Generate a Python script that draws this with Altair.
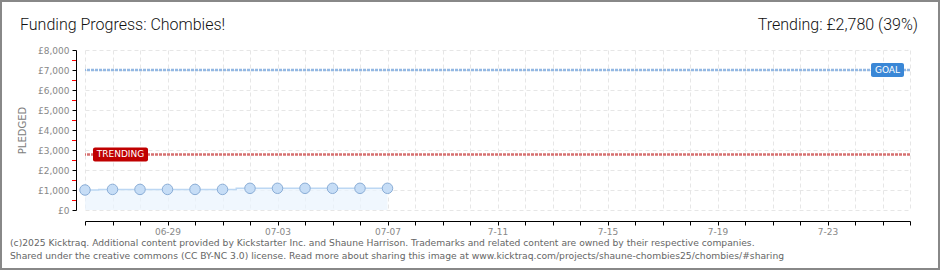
import altair as alt
import pandas as pd
from datetime import datetime, timezone

# ---- data ----
dates = ["2025-06-26", "2025-06-27", "2025-06-28", "2025-06-29", "2025-06-30", "2025-07-01",
         "2025-07-02", "2025-07-03", "2025-07-04", "2025-07-05", "2025-07-06", "2025-07-07"]
pledged = [1000, 1030, 1030, 1030, 1030, 1030, 1085, 1085, 1085, 1085, 1085, 1085]
goal = 7000
trending = 2780
x_start = "2025-06-26"
x_end = "2025-07-26"
label_dates = ["2025-06-29", "2025-07-03", "2025-07-07", "2025-07-11", "2025-07-15", "2025-07-19", "2025-07-23"]
label_texts = ["06-29", "07-03", "07-07", "7-11", "7-15", "7-19", "7-23"]
y_ticks = [0, 1000, 2000, 3000, 4000, 5000, 6000, 7000, 8000]
y_minor = [500, 1500, 2500, 3500, 4500, 5500, 6500, 7500]

title_text = "Funding Progress: Chombies!"
trend_text = "Trending:  £2,780 (39%)"
footer1 = ("(c)2025 Kicktraq. Additional content provided by Kickstarter Inc. and Shaune Harrison. "
           "Trademarks and related content are owned by their respective companies.")
footer2 = ("Shared under the creative commons (CC BY-NC 3.0) license. Read more about sharing this image at "
           "www.kicktraq.com/projects/shaune-chombies25/chombies/#sharing")

DAY = 86400000


def ms(s):
    return int(datetime.strptime(s, "%Y-%m-%d").replace(tzinfo=timezone.utc).timestamp() * 1000)


t0, t1 = ms(x_start), ms(x_end)
n_days = (t1 - t0) // DAY
tick_vals = [t0 + i * DAY for i in range(n_days + 1)]
label_expr = "''"
for d, t in reversed(list(zip(label_dates, label_texts))):
    label_expr = "(abs(datum.value - %d) < %d ? '%s' : %s)" % (ms(d), DAY // 2, t, label_expr)

W, H = 825, 160
PL, PT = 85, 50

df = pd.DataFrame({"date": dates, "pledged": pledged})

FONT = "DejaVu Sans"

xenc = alt.X("date:T",
             scale=alt.Scale(type="utc", domain=[t0, t1]),
             axis=alt.Axis(values=tick_vals, labelExpr=label_expr, title=None,
                           grid=True, gridDash=[4, 3], gridColor="#e6e6e6",
                           domainColor="black", tickColor="black", tickSize=4,
                           offset=11, labelFont=FONT, labelFontSize=9, labelColor="#888",
                           labelPadding=2, labelAngle=0, labelOverlap=False, labelFlush=False))
yaxis = alt.Axis(values=y_ticks, labelExpr="'£' + format(datum.value, ',')",
                 title="PLEDGED", titleFont=FONT, titleFontSize=10, titleFontWeight="normal",
                 titleColor="#808080", titlePadding=10,
                 grid=True, gridDash=[4, 3], gridColor="#e6e6e6",
                 domainColor="black", tickColor="black", tickSize=4,
                 offset=9, labelFont=FONT, labelFontSize=9, labelColor="#888",
                 labelPadding=3, labelOverlap=False, labelFlush=False)
yscale = alt.Scale(domain=[0, 8000], nice=False)


def Y(field):
    return alt.Y(field, scale=yscale, axis=yaxis)


base = alt.Chart(df)

area = base.mark_area(interpolate="step", color="#eaf3fd", line={"color": "#bcd7f3", "strokeWidth": 1.5}).encode(
    x=xenc, y=Y("pledged:Q"))
points = base.mark_point(filled=True, size=110, fill="#c6ddf6", stroke="#8aadd6", strokeWidth=1, opacity=1).encode(
    x=xenc, y=Y("pledged:Q"))

one = pd.DataFrame({"v": [0]})

goal_rule = alt.Chart(pd.DataFrame({"pledged": [goal]})).mark_rule(
    color="#93b8e3", strokeWidth=2.5, strokeDash=[3, 1]).encode(y=Y("pledged:Q"))
trend_rule = alt.Chart(pd.DataFrame({"pledged": [trending]})).mark_rule(
    color="#d67070", strokeWidth=2.5, strokeDash=[3, 1]).encode(y=Y("pledged:Q"))

trend_box = alt.Chart(pd.DataFrame({"pledged": [trending + 350], "b": [trending - 350]})).mark_rect(
    color="#c00000", cornerRadius=2).encode(x=alt.value(93 - PL), x2=alt.value(148 - PL), y=Y("pledged:Q"), y2="b:Q")
trend_lab = alt.Chart(pd.DataFrame({"pledged": [trending], "s": ["TRENDING"]})).mark_text(
    color="white", font=FONT, fontSize=9, fontWeight="normal", align="center", baseline="middle").encode(
    x=alt.value((93 + 148) / 2 - PL), y=Y("pledged:Q"), text="s:N")

goal_box = alt.Chart(pd.DataFrame({"pledged": [goal + 350], "b": [goal - 350]})).mark_rect(
    color="#3a87d6", cornerRadius=2).encode(x=alt.value(871 - PL), x2=alt.value(904 - PL), y=Y("pledged:Q"), y2="b:Q")
goal_lab = alt.Chart(pd.DataFrame({"pledged": [goal], "s": ["GOAL"]})).mark_text(
    color="white", font=FONT, fontSize=9, fontWeight="normal", align="center", baseline="middle").encode(
    x=alt.value((871 + 904) / 2 - PL), y=Y("pledged:Q"), text="s:N")

minor = alt.Chart(pd.DataFrame({"pledged": y_minor})).mark_rule(color="#ff0000", strokeWidth=1, yOffset=0.5).encode(
    y=Y("pledged:Q"), x=alt.value(-9 - 4), x2=alt.value(-9))


def txt(s, x, y, size, color, align="left", font=FONT, weight="normal"):
    return alt.Chart(pd.DataFrame({"s": [s]})).mark_text(
        font=font, fontSize=size, color=color, align=align, baseline="alphabetic", fontWeight=weight).encode(
        x=alt.value(x - PL), y=alt.value(y - PT), text="s:N")


title = txt(title_text, 20, 30, 16, "#111", font="Roboto", weight=300)
trend_head = txt(trend_text, 918, 30, 16, "#111", align="right", font="Roboto", weight=300)
f1 = txt(footer1, 10, 246, 9.2, "#666")
f2 = txt(footer2, 10, 259, 9.2, "#666")

border = alt.Chart(one).mark_rect(fill=None, stroke="#888", strokeWidth=2).encode(
    x=alt.value(1 - PL), x2=alt.value(939 - PL), y=alt.value(1 - PT), y2=alt.value(269 - PT))

chart = alt.layer(
    area, goal_rule, trend_rule, points, minor, trend_box, trend_lab, goal_box, goal_lab,
    title, trend_head, f1, f2, border
).properties(
    width=W, height=H,
    autosize=alt.AutoSizeParams(type="none"),
    padding={"left": PL, "top": PT, "right": 940 - PL - W, "bottom": 270 - PT - H},
    background="white",
).configure_view(stroke=None).configure_axis(labelOverlap=False)

chart.save("out.html", embed_options={"renderer": "svg", "actions": False})
